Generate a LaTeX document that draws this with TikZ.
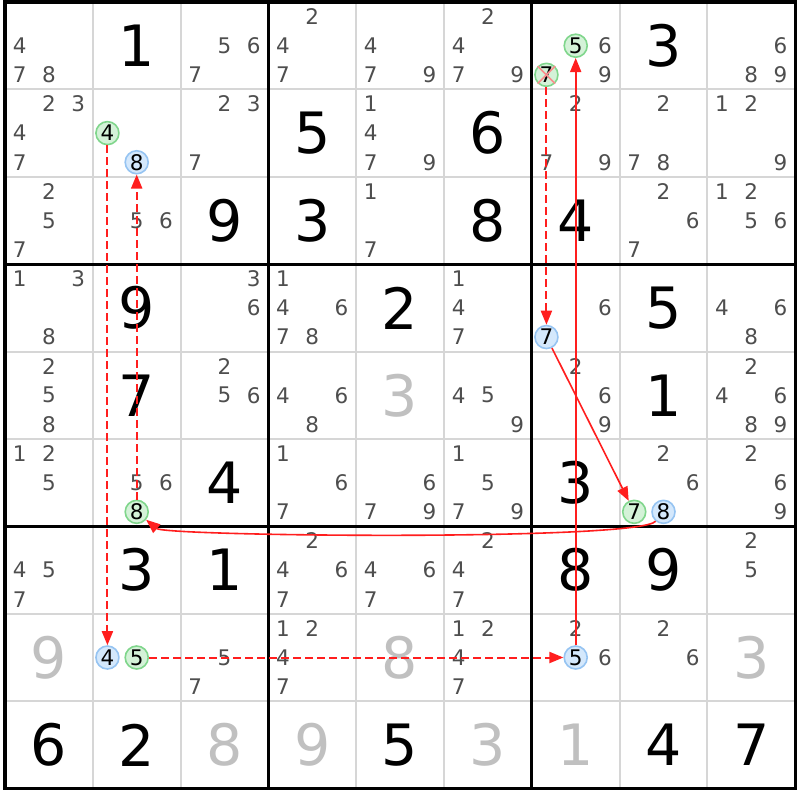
\documentclass[tikz,border=0pt]{standalone}
\usepackage{fontspec}
\setmainfont{DejaVu Sans}
\usetikzlibrary{arrows.meta}
\definecolor{candgray}{RGB}{78,78,78}
\definecolor{solvedgray}{RGB}{192,192,192}
\definecolor{gridgray}{RGB}{214,214,214}
\definecolor{ongreen}{RGB}{212,242,216}
\definecolor{ongreenline}{RGB}{128,214,140}
\definecolor{offblue}{RGB}{212,232,252}
\definecolor{offblueline}{RGB}{150,196,242}
\definecolor{crossred}{RGB}{250,140,140}
\definecolor{linkred}{RGB}{255,30,30}

\begin{document}
\begin{tikzpicture}[x=87.8pt,y=-87.4pt]
   \tikzstyle{every node}=[inner sep=0pt]
   \tikzstyle{cand}=[text=candgray, font=\fontsize{21.5}{21.5}\selectfont]
   \tikzstyle{given}=[font=\fontsize{57}{57}\selectfont]
   \tikzstyle{solved}=[given, text=solvedgray]
   \tikzstyle{oncand}=[cand, text=black, circle, minimum size=23pt, line width=1.6pt, draw=ongreenline, fill=ongreen]
   \tikzstyle{offcand}=[oncand, draw=offblueline, fill=offblue]
   \tikzstyle{dashlink}=[linkred, line width=2pt, dash pattern=on 8pt off 4pt, -{Triangle[length=14pt,width=11pt]}]
   \tikzstyle{solidlink}=[linkred, line width=1.6pt, -{Triangle[length=14pt,width=11pt]}]

\useasboundingbox (-5pt,2pt) rectangle (795pt,-798pt);
\fill[white] (-5pt,2pt) rectangle (795pt,-798pt);

% grid
\foreach \i in {1,2,4,5,7,8} {
    \draw[gridgray, line width=2pt] (\i,0) -- (\i,9);
    \draw[gridgray, line width=2pt] (0,\i) -- (9,\i);
}
\foreach \i in {0,3,6,9} {
    \draw[line width=3.2pt, line cap=rect] (\i,0) -- (\i,9);
    \draw[line width=3.2pt, line cap=rect] (0,\i) -- (9,\i);
}

% givens and solved cells
\foreach \row/\col/\num in {1/2/1, 1/8/3, 2/4/5, 2/6/6, 3/3/9, 3/4/3, 3/6/8, 3/7/4,
    4/2/9, 4/5/2, 4/8/5, 5/2/7, 5/8/1, 6/3/4, 6/7/3, 7/2/3, 7/3/1, 7/7/8, 7/8/9,
    9/1/6, 9/2/2, 9/5/5, 9/8/4, 9/9/7}
    \node[given] (g\row-\col) at (\col-0.5,\row-0.5) {\num};
\foreach \row/\col/\num in {5/5/3, 8/1/9, 8/5/8, 8/9/3, 9/3/8, 9/4/9, 9/6/3, 9/7/1}
    \node[solved] (g\row-\col) at (\col-0.5,\row-0.5) {\num};

% candidates
\foreach \row/\col/\list in {1/1/{4,7,8}, 1/3/{5,6,7}, 1/4/{2,4,7}, 1/5/{4,7,9}, 1/6/{2,4,7,9}, 1/7/{6,9}, 1/9/{6,8,9},
    2/1/{2,3,4,7}, 2/3/{2,3,7}, 2/5/{1,4,7,9}, 2/7/{2,7,9}, 2/8/{2,7,8}, 2/9/{1,2,9},
    3/1/{2,5,7}, 3/2/{5,6}, 3/5/{1,7}, 3/8/{2,6,7}, 3/9/{1,2,5,6},
    4/1/{1,3,8}, 4/3/{3,6}, 4/4/{1,4,6,7,8}, 4/6/{1,4,7}, 4/7/{6}, 4/9/{4,6,8},
    5/1/{2,5,8}, 5/3/{2,5,6}, 5/4/{4,6,8}, 5/6/{4,5,9}, 5/7/{2,6,9}, 5/9/{2,4,6,8,9},
    6/1/{1,2,5}, 6/2/{5,6}, 6/4/{1,6,7}, 6/5/{6,7,9}, 6/6/{1,5,7,9}, 6/8/{2,6}, 6/9/{2,6,9},
    7/1/{4,5,7}, 7/4/{2,4,6,7}, 7/5/{4,6,7}, 7/6/{2,4,7}, 7/9/{2,5},
    8/3/{5,7}, 8/4/{1,2,4,7}, 8/6/{1,2,4,7}, 8/7/{2,6}, 8/8/{2,6}}
    \foreach \num in \list
        \node[cand] (c\row-\col-\num) at ({\col-1+(2*mod(\num-1,3)+1)/6},{\row-1+(2*int((\num-1)/3)+1)/6}) {\num};

% chain candidates
\foreach \row/\col/\num/\sty in {1/7/5/oncand, 1/7/7/oncand, 2/2/4/oncand, 2/2/8/offcand,
    4/7/7/offcand, 6/2/8/oncand, 6/8/7/oncand, 6/8/8/offcand,
    8/2/4/offcand, 8/2/5/oncand, 8/7/5/offcand}
    \node[\sty] (c\row-\col-\num) at ({\col-1+(2*mod(\num-1,3)+1)/6},{\row-1+(2*int((\num-1)/3)+1)/6}) {\num};

\draw[crossred, line width=1.6pt] (c1-7-7.north west) -- (c1-7-7.south east)
    (c1-7-7.north east) -- (c1-7-7.south west);

% links
\draw[dashlink] (c1-7-7) -- (c4-7-7);
\draw[solidlink] (c4-7-7) -- (c6-8-7);
\draw[solidlink] (c6-8-8) to[out=230, in=-40, looseness=0.13] (c6-2-8);
\draw[dashlink] (c6-2-8) -- (c2-2-8);
\draw[dashlink] (c2-2-4) -- (c8-2-4);
\draw[dashlink] (c8-2-5) -- (c8-7-5);
\draw[solidlink] (c8-7-5) -- (c1-7-5);

\end{tikzpicture}
\end{document}
